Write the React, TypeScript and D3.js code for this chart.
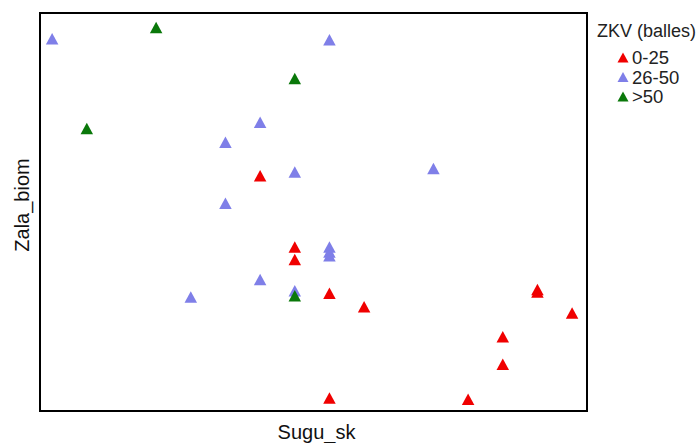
import React from "react";
import * as d3 from "d3";

// Data
const groups = ["0-25", "26-50", ">50"];
const groupColors = ["#f00000", "#7f7fe8", "#0a780a"];

const redX = [6, 7, 7, 8, 9, 14, 14, 15, 13, 13, 8, 12];
const redY = [17.9, 12.2, 11.2, 8.5, 7.4, 8.6, 8.8, 6.9, 5.0, 2.8, 0.1, 0.0];

const blueX = [0, 8, 6, 5, 7, 11, 5, 8, 8, 8, 6, 4, 7];
const blueY = [28.9, 28.8, 22.2, 20.6, 18.2, 18.5, 15.7, 12.2, 11.8, 11.5, 9.6, 8.2, 8.7];

const greenX = [3, 7, 1, 7];
const greenY = [29.8, 25.7, 21.7, 8.3];

const xLabel = "Sugu_sk";
const yLabel = "Zala_biom";
const legendTitle = "ZKV (balles)";

const W = 699;
const H = 443;
const box = { left: 40, top: 13, right: 587, bottom: 411 };

function tri(cx: number, cy: number, s: number) {
  const hw = s / 2;
  const h = s * 0.92;
  return `M${cx},${cy - h * 0.55}L${cx + hw},${cy + h * 0.45}L${cx - hw},${cy + h * 0.45}Z`;
}

export default function App() {
  const x = d3.scaleLinear().domain([-0.35, 15.43]).range([box.left, box.right]);
  const y = d3.scaleLinear().domain([-0.9, 31]).range([box.bottom, box.top]);

  const series = [
    { xs: redX, ys: redY, color: groupColors[0] },
    { xs: blueX, ys: blueY, color: groupColors[1] },
    { xs: greenX, ys: greenY, color: groupColors[2] },
  ];

  const font = "'Liberation Sans', Arial, sans-serif";

  return (
    <svg
      width={W}
      height={H}
      style={{ position: "absolute", left: 0, top: 0, background: "#fff" }}
      fontFamily={font}
    >
      <rect x={0} y={0} width={W} height={H} fill="#fff" />
      {series.map((s, si) =>
        s.xs.map((xv, i) => (
          <path key={`${si}-${i}`} d={tri(x(xv), y(s.ys[i]), 12.5)} fill={s.color} />
        ))
      )}
      <rect
        x={box.left}
        y={box.top}
        width={box.right - box.left}
        height={box.bottom - box.top}
        fill="none"
        stroke="#000"
        strokeWidth={2}
      />
      <text x={(box.left + box.right) / 2 + 3} y={439} textAnchor="middle" fontSize={20} fill="#111">
        {xLabel}
      </text>
      <text
        transform={`translate(29,${205}) rotate(-90)`}
        textAnchor="middle"
        fontSize={20}
        fill="#111"
      >
        {yLabel}
      </text>
      <text x={597} y={37} fontSize={18} fill="#222">
        {legendTitle}
      </text>
      {groups.map((g, i) => (
        <g key={g}>
          <path d={tri(623, 58 + i * 19.5, 11)} fill={groupColors[i]} />
          <text x={632} y={64 + i * 19.5} fontSize={18.5} fill="#222">
            {g}
          </text>
        </g>
      ))}
    </svg>
  );
}
